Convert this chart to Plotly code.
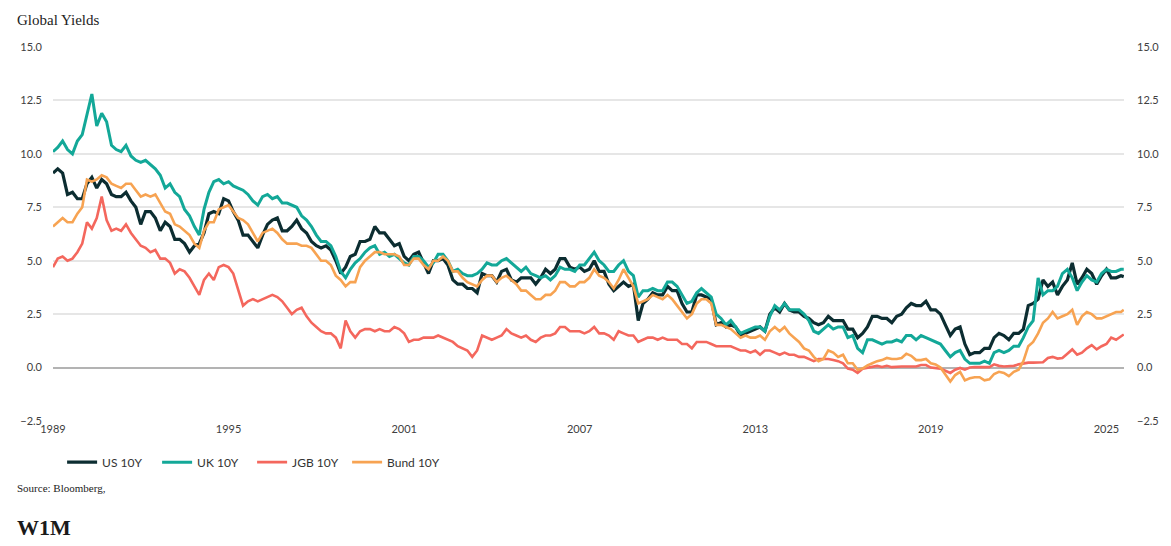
import pandas as pd
import plotly.graph_objects as go

# Bi-monthly observation dates (Jan, Mar, May, Jul, Sep, Nov) plus the final print
dates = list(pd.date_range("1989-01-01", "2025-07-01", freq="2MS")) + [pd.Timestamp("2025-08-05")]

us_10y = [
    9.1, 9.3, 9.1, 8.1, 8.2, 7.9,     # 1989
    7.9, 8.6, 8.9, 8.4, 8.8, 8.6,     # 1990
    8.1, 8.0, 8.0, 8.2, 7.8, 7.5,     # 1991
    6.7, 7.3, 7.3, 7.0, 6.4, 6.8,     # 1992
    6.6, 6.0, 6.0, 5.8, 5.4, 5.7,     # 1993
    5.8, 6.3, 7.2, 7.3, 7.2, 7.9,     # 1994
    7.8, 7.3, 6.9, 6.2, 6.2, 5.9,     # 1995
    5.6, 6.2, 6.7, 6.9, 7.0, 6.4,     # 1996
    6.4, 6.6, 6.9, 6.5, 6.3, 5.9,     # 1997
    5.7, 5.6, 5.7, 5.5, 5.0, 4.4,     # 1998
    4.7, 5.2, 5.3, 5.9, 5.9, 6.0,     # 1999
    6.6, 6.3, 6.3, 6.0, 5.7, 5.8,     # 2000
    5.2, 5.0, 5.3, 5.4, 4.9, 4.4,     # 2001
    5.0, 5.0, 5.1, 4.8, 4.1, 3.9,     # 2002
    3.9, 3.7, 3.7, 3.5, 4.4, 4.3,     # 2003
    4.3, 4.0, 4.5, 4.6, 4.1, 4.0,     # 2004
    4.2, 4.2, 4.2, 3.9, 4.2, 4.6,     # 2005
    4.4, 4.6, 5.1, 5.1, 4.7, 4.6,     # 2006
    4.7, 4.5, 4.6, 5.0, 4.5, 4.5,     # 2007
    3.9, 3.6, 3.8, 4.0, 3.8, 3.9,     # 2008
    2.2, 3.0, 3.2, 3.5, 3.4, 3.4,     # 2009
    3.8, 3.6, 3.6, 3.0, 2.6, 2.6,     # 2010
    3.4, 3.4, 3.3, 3.2, 2.0, 2.1,     # 2011
    1.9, 2.0, 1.9, 1.5, 1.6, 1.7,     # 2012
    1.8, 1.9, 1.7, 2.5, 2.8, 2.6,     # 2013
    3.0, 2.7, 2.6, 2.6, 2.4, 2.3,     # 2014
    2.1, 2.0, 2.1, 2.4, 2.2, 2.2,     # 2015
    2.2, 1.8, 1.8, 1.4, 1.6, 1.9,     # 2016
    2.4, 2.4, 2.3, 2.3, 2.1, 2.4,     # 2017
    2.5, 2.8, 3.0, 2.9, 2.9, 3.1,     # 2018
    2.7, 2.7, 2.5, 2.0, 1.5, 1.8,     # 2019
    1.9, 1.1, 0.6, 0.7, 0.7, 0.9,     # 2020
    0.9, 1.4, 1.6, 1.5, 1.3, 1.6,     # 2021
    1.6, 1.8, 2.9, 3.0, 3.2, 4.1,     # 2022
    3.8, 4.0, 3.4, 3.8, 4.1, 4.9,     # 2023
    3.9, 4.2, 4.6, 4.4, 3.9, 4.3,     # 2024
    4.6, 4.2, 4.2, 4.3, 4.25,         # 2025
]

uk_10y = [
    10.1, 10.3, 10.6, 10.2, 10.0, 10.6,
    10.9, 11.8, 12.8, 11.3, 11.9, 11.5,
    10.4, 10.2, 10.1, 10.4, 9.9, 9.7,
    9.6, 9.7, 9.5, 9.3, 9.0, 8.4,
    8.6, 8.2, 8.0, 7.4, 7.1, 6.6,
    6.2, 7.4, 8.2, 8.7, 8.8, 8.6,
    8.7, 8.5, 8.4, 8.3, 8.1, 7.8,
    7.6, 8.0, 8.1, 7.9, 8.0, 7.7,
    7.7, 7.6, 7.5, 7.1, 6.9, 6.6,
    6.2, 5.9, 5.9, 5.7, 5.2, 4.5,
    4.2, 4.6, 4.9, 5.1, 5.4, 5.6,
    5.7, 5.3, 5.4, 5.2, 5.3, 5.1,
    4.9, 4.8, 5.2, 5.2, 5.0, 4.7,
    4.9, 5.3, 5.3, 5.0, 4.5, 4.6,
    4.4, 4.3, 4.3, 4.4, 4.6, 4.9,
    4.8, 4.8, 5.0, 5.1, 4.9, 4.7,
    4.5, 4.7, 4.4, 4.3, 4.2, 4.3,
    4.1, 4.3, 4.7, 4.6, 4.6, 4.5,
    4.8, 4.8, 5.1, 5.4, 5.0, 4.8,
    4.5, 4.5, 4.8, 5.0, 4.5, 4.3,
    3.3, 3.6, 3.6, 3.7, 3.6, 3.6,
    4.0, 4.0, 3.8, 3.4, 3.0, 3.1,
    3.5, 3.7, 3.5, 3.3, 2.5, 2.3,
    2.0, 2.2, 1.9, 1.6, 1.7, 1.8,
    1.9, 1.9, 1.7, 2.4, 2.9, 2.7,
    3.0, 2.7, 2.7, 2.7, 2.5, 2.2,
    1.7, 1.6, 1.8, 2.0, 1.8, 1.9,
    1.9, 1.4, 1.5, 0.9, 0.7, 1.3,
    1.3, 1.2, 1.1, 1.2, 1.2, 1.3,
    1.2, 1.5, 1.5, 1.3, 1.5, 1.4,
    1.3, 1.2, 1.1, 0.8, 0.5, 0.7,
    0.8, 0.4, 0.2, 0.2, 0.2, 0.3,
    0.2, 0.7, 0.8, 0.7, 0.8, 1.0,
    1.0, 1.4, 1.9, 2.2, 4.2, 3.4,
    3.6, 3.6, 3.8, 4.4, 4.6, 4.2,
    3.6, 4.0, 4.3, 4.1, 4.0, 4.4,
    4.6, 4.5, 4.5, 4.6, 4.6,
]

jgb_10y = [
    4.7, 5.1, 5.2, 5.0, 5.1, 5.4,
    5.8, 6.8, 6.5, 7.0, 8.0, 6.9,
    6.4, 6.5, 6.4, 6.7, 6.3, 6.0,
    5.7, 5.6, 5.4, 5.5, 5.1, 5.1,
    4.9, 4.4, 4.6, 4.5, 4.2, 3.8,
    3.4, 4.1, 4.4, 4.1, 4.7, 4.8,
    4.7, 4.4, 3.7, 2.9, 3.1, 3.2,
    3.1, 3.2, 3.3, 3.4, 3.3, 3.1,
    2.8, 2.5, 2.7, 2.8, 2.4, 2.1,
    1.9, 1.7, 1.6, 1.6, 1.4, 0.9,
    2.2, 1.7, 1.4, 1.7, 1.8, 1.8,
    1.7, 1.8, 1.7, 1.7, 1.9, 1.8,
    1.6, 1.2, 1.3, 1.3, 1.4, 1.4,
    1.4, 1.5, 1.4, 1.3, 1.2, 1.0,
    0.9, 0.8, 0.5, 0.8, 1.5, 1.4,
    1.3, 1.4, 1.5, 1.8, 1.6, 1.5,
    1.4, 1.5, 1.3, 1.2, 1.4, 1.5,
    1.5, 1.6, 1.9, 1.9, 1.7, 1.7,
    1.7, 1.6, 1.7, 1.9, 1.6, 1.6,
    1.5, 1.3, 1.7, 1.6, 1.5, 1.5,
    1.2, 1.3, 1.4, 1.4, 1.3, 1.4,
    1.3, 1.3, 1.3, 1.1, 1.1, 0.9,
    1.2, 1.2, 1.2, 1.1, 1.0, 1.0,
    1.0, 1.0, 0.9, 0.8, 0.8, 0.7,
    0.8, 0.6, 0.8, 0.8, 0.7, 0.6,
    0.7, 0.6, 0.6, 0.5, 0.5, 0.4,
    0.3, 0.4, 0.4, 0.4, 0.35, 0.3,
    0.2, -0.05, -0.1, -0.25, -0.05, 0.0,
    0.05, 0.08, 0.03, 0.08, 0.02, 0.05,
    0.05, 0.05, 0.05, 0.05, 0.12, 0.12,
    0.0, -0.02, -0.05, -0.15, -0.25, -0.1,
    -0.02, -0.1, 0.0, 0.03, 0.02, 0.02,
    0.02, 0.15, 0.08, 0.05, 0.05, 0.08,
    0.15, 0.2, 0.23, 0.23, 0.24, 0.25,
    0.45, 0.5, 0.42, 0.45, 0.65, 0.85,
    0.6, 0.7, 0.9, 1.05, 0.85, 1.0,
    1.1, 1.4, 1.3, 1.45, 1.55,
]

bund_10y = [
    6.6, 6.8, 7.0, 6.8, 6.8, 7.2,
    7.5, 8.8, 8.7, 8.8, 9.0, 8.9,
    8.6, 8.5, 8.4, 8.6, 8.6, 8.3,
    8.0, 8.1, 8.0, 8.1, 7.7, 7.3,
    7.2, 6.7, 6.6, 6.4, 6.2, 5.8,
    5.6, 6.4, 6.8, 6.8, 7.4, 7.5,
    7.6, 7.3, 7.0, 6.9, 6.7, 6.3,
    5.9, 6.3, 6.4, 6.5, 6.3, 6.0,
    5.8, 5.8, 5.8, 5.7, 5.7, 5.6,
    5.3, 5.0, 5.0, 4.8, 4.3, 4.1,
    3.8, 4.0, 4.0, 4.7, 5.0, 5.2,
    5.4, 5.4, 5.3, 5.3, 5.3, 5.2,
    4.8, 4.8, 5.1, 5.1, 4.8, 4.6,
    5.0, 5.0, 5.2, 5.0, 4.5, 4.5,
    4.2, 4.0, 3.9, 3.8, 4.1, 4.3,
    4.3, 4.0, 4.2, 4.3, 4.1, 3.9,
    3.6, 3.6, 3.4, 3.2, 3.2, 3.4,
    3.4, 3.6, 4.0, 4.0, 3.8, 3.8,
    4.0, 4.0, 4.2, 4.6, 4.3, 4.2,
    4.0, 3.7, 4.1, 4.6, 4.2, 3.8,
    3.0, 3.1, 3.2, 3.4, 3.3, 3.2,
    3.4, 3.2, 2.9, 2.6, 2.3, 2.5,
    3.0, 3.2, 3.2, 3.0, 2.0, 2.0,
    1.9, 1.8, 1.6, 1.4, 1.5, 1.4,
    1.4, 1.5, 1.3, 1.7, 1.9, 1.7,
    1.9, 1.6, 1.4, 1.2, 0.9, 0.8,
    0.5, 0.3, 0.4, 0.8, 0.7, 0.5,
    0.6, 0.2, 0.2, -0.1, -0.05, 0.1,
    0.2, 0.3, 0.35, 0.45, 0.4, 0.4,
    0.45, 0.65, 0.55, 0.35, 0.35, 0.4,
    0.2, 0.15, 0.0, -0.35, -0.65, -0.35,
    -0.2, -0.6, -0.5, -0.45, -0.45, -0.6,
    -0.55, -0.3, -0.2, -0.25, -0.4, -0.2,
    -0.1, 0.3, 1.0, 1.2, 1.6, 2.1,
    2.3, 2.6, 2.3, 2.4, 2.5, 2.7,
    2.0, 2.4, 2.6, 2.5, 2.3, 2.3,
    2.4, 2.5, 2.6, 2.6, 2.7,
]

series_names = ["US 10Y", "UK 10Y", "JGB 10Y", "Bund 10Y"]
series_values = [us_10y, uk_10y, jgb_10y, bund_10y]
colors = ["#0c2d31", "#13a898", "#f4675d", "#f7a352"]
widths = [3.2, 3.0, 2.6, 2.6]

year_ticks = ["1989", "1995", "2001", "2007", "2013", "2019", "2025"]
y_ticks = [-2.5, 0.0, 2.5, 5.0, 7.5, 10.0, 12.5, 15.0]

fig = go.Figure()
for name, vals, col, w in zip(series_names, series_values, colors, widths):
    n = min(len(dates), len(vals))
    fig.add_trace(go.Scatter(x=dates[:n], y=vals[:n], name=name, mode="lines",
                             line=dict(color=col, width=w)))
# invisible trace to activate the right-hand axis
fig.add_trace(go.Scatter(x=dates[:len(us_10y)], y=us_10y, yaxis="y2", mode="lines",
                         line=dict(width=0), opacity=0, showlegend=False,
                         hoverinfo="skip"))

tick_font = dict(family="Lato, Noto Sans, sans-serif", size=11, color="#404040")

fig.update_layout(
    width=1163, height=538,
    margin=dict(l=42, r=44, t=39, b=125),
    paper_bgcolor="white", plot_bgcolor="white",
    showlegend=True,
    legend=dict(orientation="h", x=0.0085, xanchor="left", y=-0.11, yanchor="middle",
                font=dict(family="Lato, Noto Sans, sans-serif", size=12, color="#333333"),
                itemwidth=30, tracegroupgap=0, entrywidth=50),
    xaxis=dict(type="date", range=["1989-01-01", "2025-08-08"],
               tickvals=[y + "-01-01" for y in year_ticks], ticktext=year_ticks,
               showgrid=False, zeroline=False, showline=False, ticks="",
               tickfont=tick_font),
    yaxis=dict(range=[-2.5, 15.0], tickvals=y_ticks, tickformat=".1f",
               showgrid=True, gridcolor="#e6e6e6", gridwidth=1.5,
               zeroline=True, zerolinecolor="#b3b3b3", zerolinewidth=1.5,
               showline=False, ticks="", tickfont=tick_font, ticklabelstandoff=10),
    yaxis2=dict(range=[-2.5, 15.0], tickvals=y_ticks, tickformat=".1f",
                overlaying="y", side="right", showgrid=False, zeroline=False,
                showline=False, ticks="", tickfont=tick_font, ticklabelstandoff=12),
    annotations=[
        dict(text="Global Yields", xref="paper", yref="paper",
             x=-0.0352, y=1.072, xanchor="left", yanchor="middle", showarrow=False,
             font=dict(family="Liberation Serif, serif", size=15, color="#222222")),
        dict(text="Source: Bloomberg,", xref="paper", yref="paper",
             x=-0.0352, y=-0.179, xanchor="left", yanchor="middle", showarrow=False,
             font=dict(family="Liberation Serif, serif", size=11, color="#222222")),
        dict(text="<b>W1M</b>", xref="paper", yref="paper",
             x=-0.0352, y=-0.286, xanchor="left", yanchor="middle", showarrow=False,
             font=dict(family="Liberation Serif, serif", size=22, color="#1a1a1a")),
    ],
)

fig.write_html("out.html")
